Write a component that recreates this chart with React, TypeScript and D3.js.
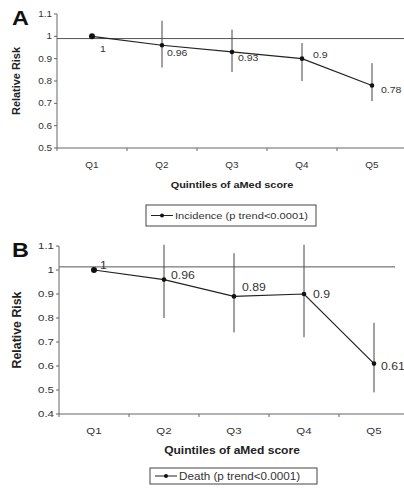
import React from "react";
import * as d3 from "d3";

const categories = ["Q1", "Q2", "Q3", "Q4", "Q5"];

const incidenceRR = [1, 0.96, 0.93, 0.9, 0.78];
const incidenceLow = [null, 0.86, 0.84, 0.8, 0.71];
const incidenceHigh = [null, 1.07, 1.03, 0.97, 0.88];
const incidenceLabels = ["1", "0.96", "0.93", "0.9", "0.78"];
const incidenceTicks = [0.5, 0.6, 0.7, 0.8, 0.9, 1, 1.1];
const incidenceTickLabels = ["0.5", "0.6", "0.7", "0.8", "0.9", "1", "1.1"];

const deathRR = [1, 0.96, 0.89, 0.9, 0.61];
const deathLow = [null, 0.8, 0.74, 0.72, 0.49];
const deathHigh = [null, 1.105, 1.07, 1.105, 0.78];
const deathLabels = ["1", "0.96", "0.89", "0.9", "0.61"];
const deathTicks = [0.4, 0.5, 0.6, 0.7, 0.8, 0.9, 1, 1.1];
const deathTickLabels = ["0.4", "0.5", "0.6", "0.7", "0.8", "0.9", "1", "1.1"];

const SX = 1.17;

type STextProps = {
  x: number;
  y: number;
  size: number;
  anchor?: "start" | "middle" | "end";
  bold?: boolean;
  fill?: string;
  dy?: string;
  rotate?: boolean;
  length?: number;
  children: React.ReactNode;
};

function SText({ x, y, size, anchor = "start", bold, fill = "#333", dy, rotate, length, children }: STextProps) {
  const t = rotate
    ? `translate(${x},${y}) scale(${SX},1) rotate(-90)`
    : `translate(${x},${y}) scale(${SX},1)`;
  return (
    <text
      transform={t}
      textAnchor={anchor}
      fontSize={size}
      fontWeight={bold ? "bold" : "normal"}
      fill={fill}
      dy={dy}
      textLength={length}
      lengthAdjust={length ? "spacingAndGlyphs" : undefined}
    >
      {children}
    </text>
  );
}

type PanelProps = {
  letter: string;
  letterY: number;
  x0: number;
  x1: number;
  yTop: number;
  yBottom: number;
  yMin: number;
  yMax: number;
  refValue: number;
  refEnd: number;
  values: number[];
  lows: (number | null)[];
  highs: (number | null)[];
  labels: string[];
  labelOffsets: [number, number][];
  ticks: number[];
  tickLabels: string[];
  tickFont: number;
  catY: number;
  titleY: number;
  titleFont: number;
  yTitleFont: number;
  yTitleX: number;
  yTitleLength: number;
  legend: { x: number; y: number; w: number; h: number; text: string };
  legendFont: number;
  fontSize: number;
};

function Panel(p: PanelProps) {
  const x = d3.scaleBand<string>().domain(categories).range([p.x0, p.x1]);
  const y = d3.scaleLinear().domain([p.yMin, p.yMax]).range([p.yBottom, p.yTop]);
  const cx = (c: string) => (x(c) as number) + x.bandwidth() / 2;
  const line = d3
    .line<number>()
    .x((_, i) => cx(categories[i]))
    .y((d) => y(d));
  const axisColor = "#666";
  const lineColor = "#222";
  return (
    <g fontFamily="'Liberation Sans', Arial, sans-serif">
      <SText x={12} y={p.letterY} size={20} bold fill="#111">
        {p.letter}
      </SText>
      {/* y axis */}
      <line x1={p.x0} x2={p.x0} y1={y(p.yMax)} y2={p.yBottom} stroke={axisColor} />
      {p.ticks.map((t, i) => (
        <g key={i}>
          <line x1={p.x0 - 3} x2={p.x0} y1={y(t)} y2={y(t)} stroke={axisColor} />
          <SText x={p.x0 - 5} y={y(t)} dy="0.35em" anchor="end" size={p.tickFont}>
            {p.tickLabels[i]}
          </SText>
        </g>
      ))}
      {/* x axis */}
      <line x1={p.x0} x2={p.x1} y1={p.yBottom} y2={p.yBottom} stroke={axisColor} />
      {categories.map((c) => (
        <g key={c}>
          <line
            x1={x(c) as number}
            x2={x(c) as number}
            y1={p.yBottom}
            y2={p.yBottom + 3}
            stroke={axisColor}
          />
          <SText x={cx(c)} y={p.catY} anchor="middle" size={p.tickFont}>
            {c}
          </SText>
        </g>
      ))}
      {/* reference line */}
      <line
        x1={p.x0}
        x2={p.refEnd}
        y1={y(p.refValue)}
        y2={y(p.refValue)}
        stroke="#555"
        strokeWidth={1}
      />
      {/* error bars */}
      {categories.map((c, i) =>
        p.lows[i] != null && p.highs[i] != null ? (
          <line
            key={"e" + c}
            x1={cx(c)}
            x2={cx(c)}
            y1={y(p.highs[i] as number)}
            y2={y(p.lows[i] as number)}
            stroke="#444"
            strokeWidth={1}
          />
        ) : null
      )}
      <path d={line(p.values) || ""} fill="none" stroke={lineColor} strokeWidth={1.2} />
      {p.values.map((v, i) => (
        <circle key={"p" + i} cx={cx(categories[i])} cy={y(v)} r={i === 0 ? 3 : 2.3} fill="#111" />
      ))}
      {p.values.map((v, i) => (
        <SText
          key={"l" + i}
          x={cx(categories[i]) + p.labelOffsets[i][0]}
          y={y(v) + p.labelOffsets[i][1]}
          size={p.fontSize}
        >
          {p.labels[i]}
        </SText>
      ))}
      {/* y title */}
      <SText
        x={p.yTitleX}
        y={(y(p.yMax) + p.yBottom) / 2}
        anchor="middle"
        size={p.yTitleFont}
        bold
        fill="#222"
        rotate
        length={p.yTitleLength}
      >
        Relative Risk
      </SText>
      <SText x={232} y={p.titleY} anchor="middle" size={p.titleFont} bold fill="#222">
        Quintiles of aMed score
      </SText>
      {/* legend */}
      <rect
        x={p.legend.x}
        y={p.legend.y}
        width={p.legend.w}
        height={p.legend.h}
        fill="white"
        stroke="#444"
      />
      <line
        x1={p.legend.x + 5}
        x2={p.legend.x + 27}
        y1={p.legend.y + p.legend.h / 2}
        y2={p.legend.y + p.legend.h / 2}
        stroke="#222"
      />
      <circle cx={p.legend.x + 16} cy={p.legend.y + p.legend.h / 2} r={2} fill="#111" />
      <SText
        x={p.legend.x + 29}
        y={p.legend.y + p.legend.h / 2}
        dy="0.35em"
        size={p.legendFont}
      >
        {p.legend.text}
      </SText>
    </g>
  );
}

export default function App() {
  return (
    <svg
      width={404}
      height={501}
      style={{ position: "absolute", left: 0, top: 0, background: "white" }}
    >
      <rect width={404} height={501} fill="white" />
      <Panel
        letter="A"
        letterY={25}
        x0={57}
        x1={407}
        yTop={14}
        yBottom={148}
        yMin={0.5}
        yMax={1.1}
        refValue={0.99}
        refEnd={404}
        values={incidenceRR}
        lows={incidenceLow}
        highs={incidenceHigh}
        labels={incidenceLabels}
        labelOffsets={[[8, 16], [5, 11], [6, 9], [11, -1], [9, 8]]}
        ticks={incidenceTicks}
        tickLabels={incidenceTickLabels}
        tickFont={8.5}
        catY={168}
        titleY={188}
        titleFont={9.3}
        yTitleFont={9}
        yTitleX={20}
        yTitleLength={68}
        legend={{ x: 146, y: 205, w: 170, h: 21, text: "Incidence (p trend<0.0001)" }}
        legendFont={9.5}
        fontSize={9}
      />
      <Panel
        letter="B"
        letterY={257}
        x0={59}
        x1={409}
        yTop={246}
        yBottom={414}
        yMin={0.4}
        yMax={1.1}
        refValue={1.013}
        refEnd={395}
        values={deathRR}
        lows={deathLow}
        highs={deathHigh}
        labels={deathLabels}
        labelOffsets={[[6, -1], [7, -1], [8, -5], [9, 4], [7, 6]]}
        ticks={deathTicks}
        tickLabels={deathTickLabels}
        tickFont={9.8}
        catY={434}
        titleY={454}
        titleFont={10.3}
        yTitleFont={11.5}
        yTitleX={21}
        yTitleLength={77}
        legend={{ x: 150, y: 468, w: 167, h: 16, text: "Death (p trend<0.0001)" }}
        legendFont={10}
        fontSize={10.5}
      />
    </svg>
  );
}
